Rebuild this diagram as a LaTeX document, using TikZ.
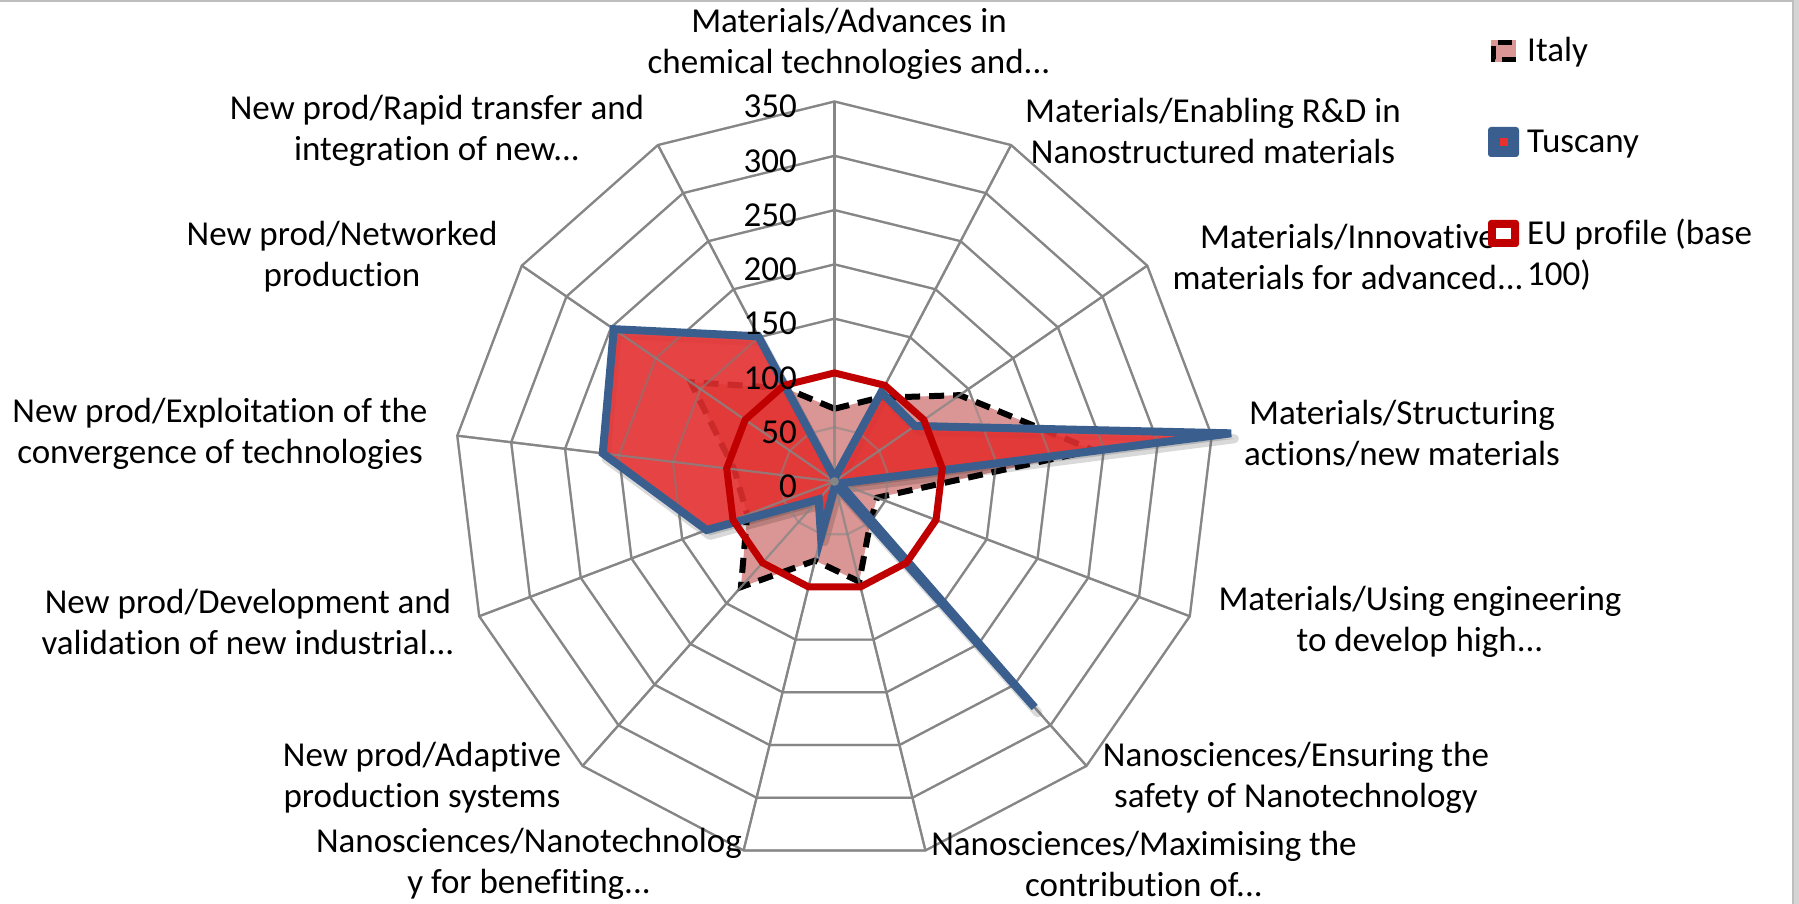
\documentclass[tikz,border=0pt]{standalone}
\usepackage{fontspec}
\setmainfont{Carlito}[Ligatures=NoCommon]
\definecolor{gridc}{RGB}{134,134,134}
\definecolor{italyfill}{RGB}{217,150,148}
\definecolor{tusfill}{RGB}{232,48,48}
\definecolor{tusline}{RGB}{58,95,142}
\definecolor{eured}{RGB}{192,0,0}
\definecolor{framec}{RGB}{190,190,190}
\definecolor{framelight}{RGB}{212,212,212}
\begin{document}
\begin{tikzpicture}[x=1pt,y=1pt,
  gridline/.style={draw=gridc,line width=2.2pt},
  lbl/.style={font=\fontsize{35}{41}\selectfont,align=center,inner sep=0pt},
  num/.style={font=\fontsize{35}{40}\selectfont,anchor=east,inner sep=0pt},
  leg/.style={font=\fontsize{35}{41}\selectfont,anchor=west,inner sep=0pt,align=left},
  italyline/.style={draw=black,line width=6pt,dash pattern=on 15pt off 9pt},
  tusborder/.style={draw=tusline,line width=8pt,line join=miter},
  euline/.style={draw=eured,line width=7pt,line join=miter}]
\useasboundingbox (0,0) rectangle (1799,904);
\fill[white] (0,0) rectangle (1799,904);
\begin{scope}[shift={(834.5,422.5)},x=1.0857pt,y=1.0857pt]
 \coordinate (O) at (0,0);
 \foreach \k in {0,...,12} \coordinate (S\k) at ({90-\k*360/13}:350);
 \foreach \v [count=\i from 0] in {67,87,140,240,42,50,95,75,130,86,93,161,97}
   \coordinate (I\i) at ({90-\i*360/13}:\v);
 \foreach \v [count=\i from 0] in {3,93,90,368,5,278,3,52,22,126,215,247,151}{
   \coordinate (T\i) at ({90-\i*360/13}:\v);
   \coordinate (H\i) at ([shift={(3,-5)}]{90-\i*360/13}:\v);}
 \foreach \i in {0,...,12} \coordinate (E\i) at ({90-\i*360/13}:100);
 % grid
 \foreach \r in {50,100,...,350}
   \draw[gridline] (90:\r) \foreach \k in {1,...,12}{ -- ({90-\k*360/13}:\r)} -- cycle;
 \foreach \k in {0,...,12} \draw[gridline] (O) -- (S\k);
 % Italy
 \fill[italyfill] (I0) -- (I1) -- (I2) -- (I3) -- (I4) -- (I5) -- (I6) -- (I7) -- (I8) -- (I9) -- (I10) -- (I11) -- (I12) -- cycle;
 \draw[italyline] (I0) -- (I1) -- (I2) -- (I3) -- (I4) -- (I5) -- (I6) -- (I7) -- (I8) -- (I9) -- (I10) -- (I11) -- (I12) -- cycle;
 % Tuscany shadow
 \filldraw[black,opacity=0.15,line width=9pt,line join=round] (H0) -- (H1) -- (H2) -- (H3) -- (H4) -- (H5) -- (H6) -- (H7) -- (H8) -- (H9) -- (H10) -- (H11) -- (H12) -- cycle;
 % Tuscany fill
 \fill[tusfill,opacity=0.88] (T0) -- (T1) -- (T2) -- (T3) -- (T4) -- (T5) -- (T6) -- (T7) -- (T8) -- (T9) -- (T10) -- (T11) -- (T12) -- cycle;
 % grid over fills
 \foreach \r in {50,100,...,350}
   \draw[gridline,opacity=0.55] (90:\r) \foreach \k in {1,...,12}{ -- ({90-\k*360/13}:\r)} -- cycle;
 \foreach \k in {0,...,12} \draw[gridline,opacity=0.8] (O) -- (S\k);
 % Tuscany border
 \draw[tusborder] (T0) -- (T1) -- (T2) -- (T3) -- (T4) -- (T5) -- (T6) -- (T7) -- (T8) -- (T9) -- (T10) -- (T11) -- (T12) -- cycle;
 % EU
 \draw[euline] (E0) -- (E1) -- (E2) -- (E3) -- (E4) -- (E5) -- (E6) -- (E7) -- (E8) -- (E9) -- (E10) -- (E11) -- (E12) -- cycle;
 \fill[gridc] (O) circle (4);
\end{scope}
% axis numbers
\foreach \v in {0,50,...,350}
  \node[num] (n\v) at (797,{422.5+\v*1.0857-5}) {\v};
% category labels
\node[lbl] (L0) at (849,860.5) {Materials/Advances in\\chemical technologies and...};
\node[lbl] (L1) at (1213,773) {Materials/Enabling R\&D in\\Nanostructured materials};
\node[lbl] (L2) at (1348,647) {Materials/Innovative\\materials for advanced...};
\node[lbl] (L3) at (1402,470.5) {Materials/Structuring\\actions/new materials};
\node[lbl] (L4) at (1420,282.5) {Materials/Using engineering\\to develop high...};
\node[lbl] (L5) at (1296,126.5) {Nanosciences/Ensuring the\\safety of Nanotechnology};
\node[lbl] (L6) at (1144,40) {Nanosciences/Maximising the\\contribution of...};
\node[lbl] (L7) at (529,40) {Nanosciences/Nanotechnolog\\y for benefiting...};
\node[lbl] (L8) at (422,126.5) {New prod/Adaptive\\production systems};
\node[lbl] (L9) at (248,282.5) {New prod/Development and\\validation of new industrial...};
\node[lbl] (L10) at (220,470.5) {New prod/Exploitation of the\\convergence of technologies};
\node[lbl] (L11) at (342,647) {New prod/Networked\\production};
\node[lbl] (L12) at (437,773) {New prod/Rapid transfer and\\integration of new...};
% legend
\fill[italyfill] (1491,842) rectangle (1516,864);
\draw[black,line width=5pt,dash pattern=on 14pt off 8pt] (1516,844.5) -- (1493.5,844.5) -- (1493.5,861.5) -- (1516,861.5);
\node[leg] (gI) at (1527,852) {Italy};
\fill[tusline,rounded corners=3pt] (1488,747) rectangle (1519,777);
\fill[tusfill] (1499.5,758) rectangle (1507.5,766);
\node[leg] (gT) at (1527,760) {Tuscany};
\fill[eured,rounded corners=3pt] (1488,657) rectangle (1519,684);
\fill[white] (1496,665) rectangle (1511,676);
\node[leg] (gE) at (1527,649) {EU profile (base\\100)};
% frame
\fill[framelight] (1794,0) rectangle (1799,904);
\draw[framec,line width=2.5pt] (0,902.75) -- (1793,902.75) -- (1793,0);
\end{tikzpicture}
\end{document}
